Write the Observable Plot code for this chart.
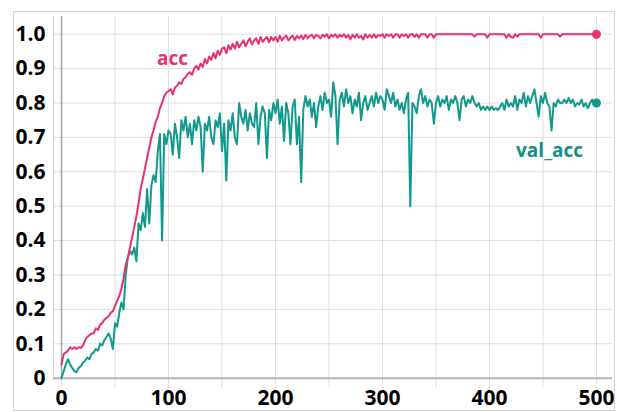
<!DOCTYPE html>
<html><head><meta charset="utf-8">
<script src="https://cdn.jsdelivr.net/npm/d3@7"></script>
<script src="https://cdn.jsdelivr.net/npm/@observablehq/plot@0.6"></script>
<style>
html,body{margin:0;padding:0;background:#fff;}
#wrap{position:relative;width:617px;height:412px;overflow:hidden;background:#fff;}
#border{position:absolute;left:13px;top:11px;width:600px;height:398px;border:1px solid #d4d4d4;pointer-events:none;}
#chart{position:absolute;left:0;top:0;}
</style></head><body>
<div id="wrap"><div id="chart"></div><div id="border"></div></div>
<script>
const EPOCH_STEP = 2;
const seriesNames = ["acc", "val_acc"];
const accValues = [
  0.04, 0.07, 0.075, 0.08, 0.09, 0.085, 0.09, 0.085, 0.09, 0.088,
  0.095, 0.11, 0.12, 0.125, 0.13, 0.13, 0.145, 0.14, 0.155, 0.16,
  0.17, 0.175, 0.18, 0.19, 0.195, 0.21, 0.225, 0.24, 0.26, 0.29,
  0.33, 0.35, 0.38, 0.41, 0.44, 0.47, 0.51, 0.55, 0.58, 0.61,
  0.64, 0.67, 0.70, 0.72, 0.745, 0.76, 0.785, 0.80, 0.82, 0.83,
  0.835, 0.84, 0.825, 0.845, 0.85, 0.86, 0.855, 0.87, 0.875, 0.885,
  0.89, 0.882, 0.90, 0.908, 0.897, 0.915, 0.905, 0.928, 0.915, 0.935,
  0.925, 0.945, 0.93, 0.952, 0.94, 0.958, 0.962, 0.945, 0.968, 0.955,
  0.972, 0.958, 0.978, 0.962, 0.972, 0.982, 0.965, 0.978, 0.988, 0.97,
  0.982, 0.988, 0.972, 0.992, 0.978, 0.986, 0.992, 0.976, 0.992, 0.982,
  0.992, 0.978, 0.996, 0.982, 0.99, 0.996, 0.982, 0.99, 0.996, 0.983,
  0.995, 0.988, 0.996, 0.986, 0.998, 0.988, 0.995, 0.998, 0.988, 0.998,
  0.995, 0.988, 0.998, 0.993, 1.0, 0.988, 0.998, 0.993, 1.0, 0.99,
  0.998, 0.993, 1.0, 0.99, 0.998, 0.985, 0.998, 0.99, 1.0, 0.99,
  0.995, 0.985, 1.0, 0.99, 0.998, 0.99, 1.0, 0.99, 0.998, 0.995,
  1.0, 0.99, 1.0, 0.995, 1.0, 0.99, 1.0, 1.0, 0.99, 1.0,
  0.995, 1.0, 0.99, 1.0, 1.0, 0.992, 1.0, 0.99, 1.0, 1.0,
  1.0, 0.99, 1.0, 1.0, 0.99, 1.0, 1.0, 1.0, 1.0, 1.0,
  1.0, 1.0, 1.0, 1.0, 1.0, 1.0, 1.0, 1.0, 1.0, 1.0,
  1.0, 1.0, 1.0, 0.993, 1.0, 1.0, 1.0, 1.0, 1.0, 0.99,
  1.0, 1.0, 1.0, 1.0, 1.0, 1.0, 1.0, 1.0, 0.99, 1.0,
  0.992, 0.99, 1.0, 0.993, 1.0, 1.0, 1.0, 1.0, 1.0, 1.0,
  1.0, 1.0, 1.0, 1.0, 0.99, 1.0, 1.0, 1.0, 1.0, 1.0,
  1.0, 1.0, 1.0, 0.993, 1.0, 1.0, 1.0, 1.0, 1.0, 1.0,
  1.0, 1.0, 1.0, 1.0, 1.0, 1.0, 1.0, 1.0, 1.0, 1.0,
  1.0
];
const valAccValues = [
  0.0, 0.02, 0.04, 0.055, 0.04, 0.03, 0.02, 0.018, 0.03, 0.035,
  0.045, 0.05, 0.06, 0.055, 0.07, 0.075, 0.085, 0.08, 0.10, 0.095,
  0.11, 0.12, 0.13, 0.115, 0.085, 0.16, 0.15, 0.19, 0.22, 0.20,
  0.30, 0.35, 0.37, 0.36, 0.38, 0.34, 0.45, 0.43, 0.48, 0.44,
  0.55, 0.45, 0.56, 0.59, 0.57, 0.66, 0.71, 0.40, 0.71, 0.68,
  0.72, 0.71, 0.65, 0.74, 0.70, 0.64, 0.75, 0.72, 0.76, 0.70,
  0.74, 0.68, 0.75, 0.72, 0.76, 0.73, 0.60, 0.74, 0.72, 0.76,
  0.70, 0.68, 0.75, 0.73, 0.77, 0.66, 0.74, 0.575, 0.75, 0.72,
  0.77, 0.70, 0.68, 0.80, 0.76, 0.74, 0.78, 0.72, 0.77, 0.74,
  0.73, 0.80, 0.68, 0.76, 0.79, 0.77, 0.64, 0.78, 0.75, 0.80,
  0.77, 0.81, 0.74, 0.79, 0.69, 0.80, 0.77, 0.68, 0.79, 0.81,
  0.68, 0.76, 0.57, 0.78, 0.82, 0.79, 0.81, 0.76, 0.80, 0.73,
  0.79, 0.82, 0.78, 0.83, 0.80, 0.81, 0.76, 0.86, 0.82, 0.68,
  0.81, 0.83, 0.79, 0.84, 0.80, 0.82, 0.77, 0.81, 0.79, 0.83,
  0.75, 0.80, 0.82, 0.78, 0.80, 0.82, 0.79, 0.83, 0.80, 0.82,
  0.81, 0.78, 0.84, 0.82, 0.80, 0.83, 0.79, 0.81, 0.78, 0.80,
  0.77, 0.81, 0.83, 0.50, 0.80, 0.79, 0.77, 0.82, 0.84, 0.80,
  0.82, 0.79, 0.81, 0.80, 0.74, 0.80, 0.82, 0.79, 0.81, 0.80,
  0.82, 0.78, 0.81, 0.80, 0.82, 0.80, 0.75, 0.81, 0.82, 0.79,
  0.81, 0.80, 0.82, 0.80, 0.79, 0.80, 0.78, 0.79, 0.78, 0.79,
  0.78, 0.79, 0.78, 0.785, 0.78, 0.79, 0.80, 0.78, 0.81, 0.79,
  0.80, 0.79, 0.82, 0.78, 0.81, 0.80, 0.83, 0.79, 0.82, 0.80,
  0.82, 0.84, 0.80, 0.76, 0.82, 0.80, 0.83, 0.80, 0.79, 0.72,
  0.80, 0.79, 0.81, 0.80, 0.80, 0.81, 0.80, 0.815, 0.80, 0.81,
  0.79, 0.80, 0.795, 0.81, 0.79, 0.80, 0.785, 0.80, 0.81, 0.795,
  0.80
];
const xTickValues = [0, 100, 200, 300, 400, 500];
const xGridValues = [0, 50, 100, 150, 200, 250, 300, 350, 400, 450, 500];
const yTickValues = [0, 0.1, 0.2, 0.3, 0.4, 0.5, 0.6, 0.7, 0.8, 0.9, 1.0];

// ---- build rows ----
const toRows = vals => vals.map((v, i) => ({epoch: i * EPOCH_STEP, value: v}));
const accRows = toRows(accValues);
const valRows = toRows(valAccValues);

const accColor = "#e6336e";
const valColor = "#119a8b";
const xDomain = [-7.5, 515];
const yDomain = [-0.03, 1.0515];

const chart = Plot.plot({
  width: 617, height: 412,
  marginLeft: 53, marginRight: 5, marginTop: 16, marginBottom: 24,
  style: {fontFamily: "'Open Sans', sans-serif", fontSize: "21px", fontWeight: "700", color: "#000", background: "transparent", overflow: "visible"},
  x: {domain: xDomain, ticks: xTickValues, tickSize: 0, tickPadding: 2, label: null, tickFormat: d => String(d)},
  y: {domain: yDomain, ticks: yTickValues, tickSize: 0, tickPadding: 8, label: null, tickFormat: d => d === 0 ? "0" : d.toFixed(1)},
  marks: [
    Plot.ruleX(xGridValues, {stroke: "#dedede", strokeWidth: 1}),
    Plot.ruleY(yTickValues, {stroke: "#dedede", strokeWidth: 1}),
    Plot.ruleX([xDomain[0]], {stroke: "#d6d6d6", strokeWidth: 1, insetBottom: 8}),
    Plot.ruleX([0], {stroke: "#a4a4a4", strokeWidth: 1.5, insetBottom: 8}),
    Plot.ruleY([0], {stroke: "#b6b6b6", strokeWidth: 2}),
    Plot.line(valRows, {x: "epoch", y: "value", stroke: valColor, strokeWidth: 2, strokeLinejoin: "round"}),
    Plot.line(accRows, {x: "epoch", y: "value", stroke: accColor, strokeWidth: 2, strokeLinejoin: "round"}),
    Plot.dot(accRows.slice(-1), {x: "epoch", y: "value", fill: accColor, r: 4.5}),
    Plot.dot(valRows.slice(-1), {x: "epoch", y: "value", fill: valColor, r: 4.5}),
    Plot.text([seriesNames[0]], {text: d => d, frameAnchor: "top-left", dx: 119, dy: 42, fill: accColor, fontSize: 19, fontWeight: 700, textAnchor: "middle", lineAnchor: "middle"}),
    Plot.text([seriesNames[1]], {text: d => d, frameAnchor: "top-right", dx: -63, dy: 134, fill: "#138f86", fontSize: 19, fontWeight: 700, textAnchor: "middle", lineAnchor: "middle"})
  ]
});
document.getElementById("chart").appendChild(chart);
</script>
</body></html>
